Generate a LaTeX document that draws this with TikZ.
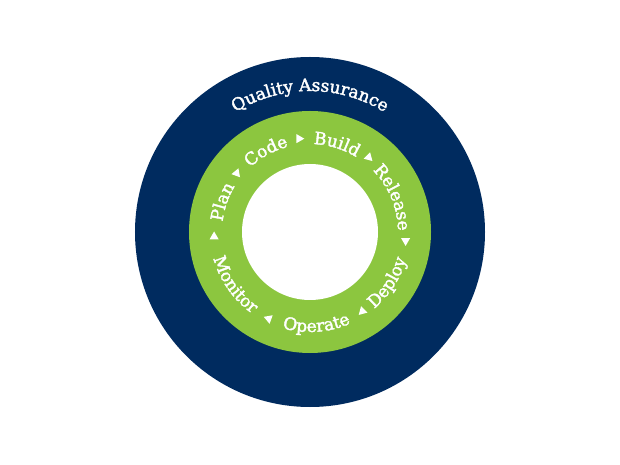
\documentclass[tikz,border=0pt]{standalone}
\usepackage{fontspec}
\setmainfont{DejaVu Serif}
\newfontfamily\qafont[FakeBold=2]{DejaVu Serif}
\usetikzlibrary{decorations.text,shapes.geometric}
\definecolor{qanavy}{HTML}{002B5F}
\definecolor{qagreen}{HTML}{8CC63F}
\newcommand\qasize{\qafont\fontsize{17}{17}\selectfont}
\begin{document}
\begin{tikzpicture}[x=1pt,y=1pt,
  ringtext/.style={decorate, decoration={text along path, text align=center,
      text color=white, text={|\qasize|#1}}},
  tri/.style={regular polygon, regular polygon sides=3, fill=white, draw=none,
      inner sep=0pt, minimum size=10.5pt, rotate=#1-90}]
\useasboundingbox (-310,-233) rectangle (310,232);
\fill[white] (-310,-233) rectangle (310,232);
% rings
\fill[qanavy] (0,0) circle[radius=175pt];
\fill[qagreen] (0,0) circle[radius=121pt];
\fill[white] (0,0) circle[radius=68pt];
% outer label
\path[ringtext={Quality Assurance}] (140:141pt) arc[start angle=140, end angle=40, radius=141pt];
% top words (clockwise)
\path[ringtext=Plan] (201:88pt) arc[start angle=201, end angle=121, radius=88pt];
\path[ringtext=Code] (158.5:88pt) arc[start angle=158.5, end angle=78.5, radius=88pt];
\path[ringtext=Build] (113:88pt) arc[start angle=113, end angle=33, radius=88pt];
\path[ringtext=Release] (62.6:88pt) arc[start angle=62.6, end angle=-17.4, radius=88pt];
% bottom words (counter-clockwise)
\path[ringtext=Deploy] (-73:100pt) arc[start angle=-73, end angle=7, radius=100pt];
\path[ringtext=Operate] (-126:100pt) arc[start angle=-126, end angle=-46, radius=100pt];
\path[ringtext=Monitor] (-185:100pt) arc[start angle=-185, end angle=-105, radius=100pt];
% arrow marks
\node[tri=190] (a1) at (141.3:94pt) {};
\node[tri=0]   (a2) at (96.7:94pt) {};
\node[tri=75]  (a3) at (51.8:95pt) {};
\node[tri=270] (a4) at (-5.2:96pt) {};
\node[tri=105] (a5) at (-56.5:95pt) {};
\node[tri=280] (a6) at (-115.5:96pt) {};
\node[tri=90]  (a7) at (-177.2:96pt) {};
\end{tikzpicture}
\end{document}
